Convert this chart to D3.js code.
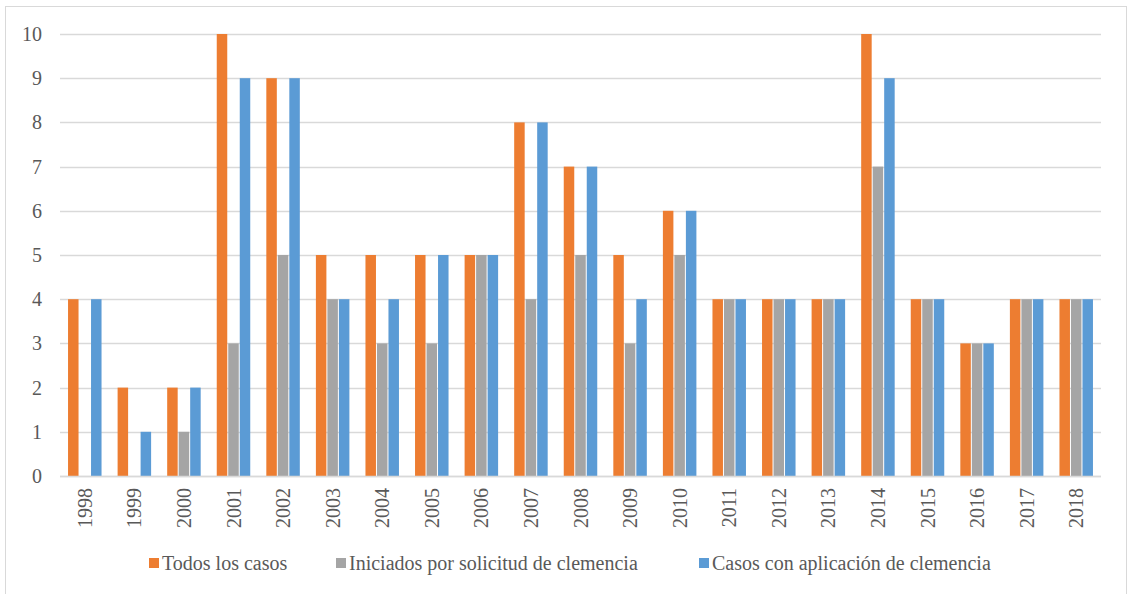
<!DOCTYPE html>
<html><head><meta charset="utf-8"><script src="https://cdn.jsdelivr.net/npm/d3@7"></script></head>
<body style="margin:0">
<svg id="chart" width="1129" height="594" style="display:block"></svg>
<script>
// Years on the category axis
const years = ["1998","1999","2000","2001","2002","2003","2004","2005","2006","2007",
               "2008","2009","2010","2011","2012","2013","2014","2015","2016","2017","2018"];

// Series values per year
const todosLosCasos      = [4, 2, 2, 10, 9, 5, 5, 5, 5, 8, 7, 5, 6, 4, 4, 4, 10, 4, 3, 4, 4];
const iniciadosSolicitud = [0, 0, 1, 3, 5, 4, 3, 3, 5, 4, 5, 3, 5, 4, 4, 4, 7, 4, 3, 4, 4];
const casosAplicacion    = [4, 1, 2, 9, 9, 4, 4, 5, 5, 8, 7, 4, 6, 4, 4, 4, 9, 4, 3, 4, 4];

const seriesNames = ["Todos los casos", "Iniciados por solicitud de clemencia", "Casos con aplicación de clemencia"];
const seriesColors = ["#ED7D31", "#A5A5A5", "#5B9BD5"];
const yTicks = [0, 1, 2, 3, 4, 5, 6, 7, 8, 9, 10];

const seriesData = [todosLosCasos, iniciadosSolicitud, casosAplicacion];

const FONT = '"Liberation Serif", monospace';
const TEXT_COLOR = "#595959";

const svg = d3.select("#chart");
const W = 1129, H = 594;

// Outer chart frame
svg.append("rect")
  .attr("x", 5.5).attr("y", 6.5)
  .attr("width", W - 8).attr("height", H)
  .attr("fill", "#fff").attr("stroke", "#D9D9D9").attr("stroke-width", 1);

const plot = { left: 60, right: 1101, top: 34, bottom: 476 };

const x = d3.scaleBand().domain(years).range([plot.left, plot.right]);
const y = d3.scaleLinear().domain([0, 10]).range([plot.bottom, plot.top]);

const barW = 10.5, barGap = 1;
const groupW = 3 * barW + 2 * barGap;

// Gridlines
svg.append("g")
  .selectAll("line")
  .data(yTicks)
  .join("line")
  .attr("x1", plot.left).attr("x2", plot.right)
  .attr("y1", d => Math.round(y(d)) + 0.5).attr("y2", d => Math.round(y(d)) + 0.5)
  .attr("stroke", "#D9D9D9").attr("stroke-width", 1.3);

// Y axis labels
svg.append("g")
  .selectAll("text")
  .data(yTicks)
  .join("text")
  .attr("x", 42)
  .attr("y", d => y(d))
  .attr("dy", "0.35em")
  .attr("text-anchor", "end")
  .attr("font-size", 20)
  .attr("fill", TEXT_COLOR)
  .style("font-family", FONT)
  .text(d => d3.format("d")(d));

// Bars
const groups = svg.append("g")
  .selectAll("g")
  .data(years)
  .join("g")
  .attr("transform", d => `translate(${x(d) + (x.bandwidth() - groupW) / 2},0)`);

groups.selectAll("rect")
  .data((d, i) => seriesData.map((s, k) => ({ k, v: s[i] })))
  .join("rect")
  .attr("x", d => d.k * (barW + barGap))
  .attr("width", barW)
  .attr("y", d => y(d.v))
  .attr("height", d => y(0) - y(d.v))
  .attr("fill", d => seriesColors[d.k]);

// Baseline
svg.append("line")
  .attr("x1", plot.left).attr("x2", plot.right)
  .attr("y1", Math.round(y(0)) + 0.5).attr("y2", Math.round(y(0)) + 0.5)
  .attr("stroke", "#D9D9D9").attr("stroke-width", 1.3);

// X axis labels, rotated
svg.append("g")
  .selectAll("text")
  .data(years)
  .join("text")
  .attr("transform", d => `translate(${x(d) + x.bandwidth() / 2},${plot.bottom + 12}) rotate(-90)`)
  .attr("dy", "0.35em")
  .attr("text-anchor", "end")
  .attr("font-size", 20)
  .attr("fill", TEXT_COLOR)
  .style("font-family", FONT)
  .text(d => d);

// Legend
const legendX = [149, 336, 699];
const legend = svg.append("g")
  .selectAll("g")
  .data(seriesNames)
  .join("g")
  .attr("transform", (d, i) => `translate(${legendX[i]},563)`);
legend.append("rect")
  .attr("x", 0).attr("y", -5).attr("width", 10).attr("height", 10)
  .attr("fill", (d, i) => seriesColors[i]);
legend.append("text")
  .attr("x", 13).attr("y", 0).attr("dy", "0.35em")
  .attr("font-size", 20)
  .attr("fill", TEXT_COLOR)
  .style("font-family", FONT)
  .text(d => d);
</script>
</body></html>
